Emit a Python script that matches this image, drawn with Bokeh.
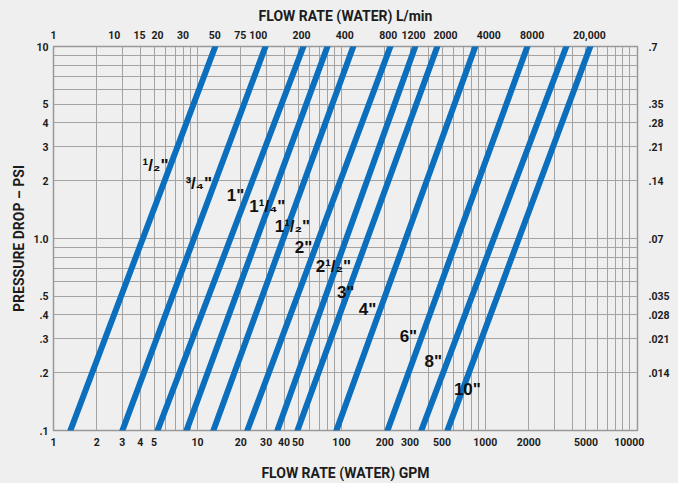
from bokeh.plotting import figure
from bokeh.models import (ColumnDataSource, FixedTicker, LogAxis, LogScale,
                          Range1d, CustomJSTickFormatter)
from bokeh.core.properties import value
from bokeh.embed import file_html
from bokeh.resources import INLINE

# ---- data ----
pipe_sizes = ['\u00b9/\u2082"', '\u00b3/\u2084"', '1"', '1\u00b9/\u2084"', '1\u00b9/\u2082"', '2"',
              '2\u00b9/\u2082"', '3"', '4"', '6"', '8"', '10"']
flow_at_low_gpm = [1.31, 3.01, 5.28, 8.39, 12.9, 22.2, 35.9, 49.5, 92.3, 209, 359, 545]
flow_at_high_gpm = [13.3, 29.7, 54.5, 80, 121, 219, 326, 464, 852, 1959, 3652, 5358]
psi_low = [0.1] * 12
psi_high = [10] * 12
label_x_gpm = [5.11, 10.2, 18.4, 30.6, 45.7, 54.5, 88, 107, 152, 292, 435, 750]
label_y_psi = [2.41, 1.94, 1.68, 1.46, 1.15, 0.894, 0.711, 0.521, 0.426, 0.308, 0.228, 0.163]

gpm_ticks = [1, 2, 3, 4, 5, 10, 20, 30, 40, 50, 100, 200, 300, 500, 1000, 2000, 5000, 10000]
gpm_labels = ["1", "2", "3", "4", "5", "10", "20", "30", "40", "50", "100", "200", "300",
              "500", "1000", "2000", "5000", "10000"]
lpm_ticks = [3.785, 10, 15, 20, 30, 50, 75, 100, 200, 400, 800, 1200, 2000, 4000, 8000, 20000]
lpm_labels = ["1", "10", "15", "20", "30", "50", "75", "100", "200", "400", "800", "1200",
              "2000", "4000", "8000", "20,000"]
psi_ticks = [0.1, 0.2, 0.3, 0.4, 0.5, 1, 2, 3, 4, 5, 10]
psi_labels = [".1", ".2", ".3", ".4", ".5", "1.0", "2", "3", "4", "5", "10"]
bar_ticks = [0.007, 0.014, 0.021, 0.028, 0.035, 0.07, 0.14, 0.21, 0.28, 0.35, 0.7]
bar_labels = [".007", ".014", ".021", ".028", ".035", ".07", ".14", ".21", ".28", ".35", ".7"]

GPM_MAX = 11400
LPM_PER_GPM = 3.785
PSI_TO_BAR = 0.07

BG = "#efefef"
BLUE = "#0b6fbd"
GRID = "#a3a3a3"
FONT = "Roboto"

x_minor = [m * 10 ** e for e in range(0, 5) for m in range(1, 10) if m * 10 ** e <= GPM_MAX]
y_minor = [m * 10 ** e for e in range(-1, 1) for m in range(1, 10)] + [10]


def fmt(ticks, labels):
    return CustomJSTickFormatter(args=dict(tv=ticks, tl=labels), code="""
        for (let i = 0; i < tv.length; i++) {
            if (Math.abs(Math.log(tv[i]) - Math.log(tick)) < 1e-6) return tl[i];
        }
        return "";
    """)


p = figure(width=678, height=483, x_axis_type="log", y_axis_type="log",
           x_range=Range1d(1, GPM_MAX), y_range=Range1d(0.1, 10),
           output_backend="svg", toolbar_location=None,
           min_border_left=53, min_border_right=41, min_border_top=46, min_border_bottom=52)
p.extra_x_ranges = {"lpm": Range1d(1 * LPM_PER_GPM, GPM_MAX * LPM_PER_GPM)}
p.extra_x_scales = {"lpm": LogScale()}
p.extra_y_ranges = {"bar": Range1d(0.1 * PSI_TO_BAR, 10 * PSI_TO_BAR)}
p.extra_y_scales = {"bar": LogScale()}

p.background_fill_color = BG
p.border_fill_color = BG
p.outline_line_color = "#999999"
p.outline_line_width = 1.5

bottom = p.below[0]
left = p.left[0]
bottom.ticker = FixedTicker(ticks=gpm_ticks, minor_ticks=x_minor)
bottom.formatter = fmt(gpm_ticks, gpm_labels)
left.ticker = FixedTicker(ticks=psi_ticks, minor_ticks=y_minor)
left.formatter = fmt(psi_ticks, psi_labels)

top = LogAxis(x_range_name="lpm", ticker=FixedTicker(ticks=lpm_ticks),
              formatter=fmt(lpm_ticks, lpm_labels))
right = LogAxis(y_range_name="bar", ticker=FixedTicker(ticks=bar_ticks),
                formatter=fmt(bar_ticks, bar_labels))
p.add_layout(top, "above")
p.add_layout(right, "right")

bottom.axis_label = "FLOW RATE (WATER) GPM"
top.axis_label = "FLOW RATE (WATER) L/min"
left.axis_label = "PRESSURE DROP \u2013 PSI"

for ax in (bottom, left, top, right):
    ax.major_tick_line_color = None
    ax.minor_tick_line_color = None
    ax.major_tick_out = 0
    ax.major_tick_in = 0
    ax.minor_tick_out = 0
    ax.minor_tick_in = 0
    ax.axis_line_color = None
    ax.major_label_text_font = FONT
    ax.major_label_text_font_style = "bold"
    ax.major_label_text_font_size = "10.5px"
    ax.major_label_text_color = "#1c1c1c"
    ax.axis_label_text_font = FONT
    ax.axis_label_text_font_style = "bold"
    ax.axis_label_text_font_size = "14px"
    ax.axis_label_text_color = "#1c1c1c"

bottom.major_label_standoff = 7
top.major_label_standoff = 8
left.major_label_standoff = 5
right.major_label_standoff = 11
bottom.axis_label_standoff = 16
top.axis_label_standoff = 4
left.axis_label_standoff = 3

for g in (p.xgrid[0], p.ygrid[0]):
    g.grid_line_color = GRID
    g.grid_line_width = 1
    g.minor_grid_line_color = GRID
    g.minor_grid_line_width = 1

src = ColumnDataSource(dict(x0=flow_at_low_gpm, y0=psi_low, x1=flow_at_high_gpm, y1=psi_high))
p.segment(x0="x0", y0="y0", x1="x1", y1="y1", source=src, line_color=BLUE,
          line_width=6, line_cap="round")

lab = ColumnDataSource(dict(x=label_x_gpm, y=label_y_psi, t=pipe_sizes))
p.text(x="x", y="y", text="t", source=lab, text_font=value("Liberation Sans"),
       text_font_style="bold", text_font_size="17px", text_color="#111111",
       text_align="center", text_baseline="middle")

html = file_html(p, INLINE)
html = html.replace("<head>", "<head><style>body{background:%s;}</style>" % BG, 1)
open("out.html", "w").write(html)
